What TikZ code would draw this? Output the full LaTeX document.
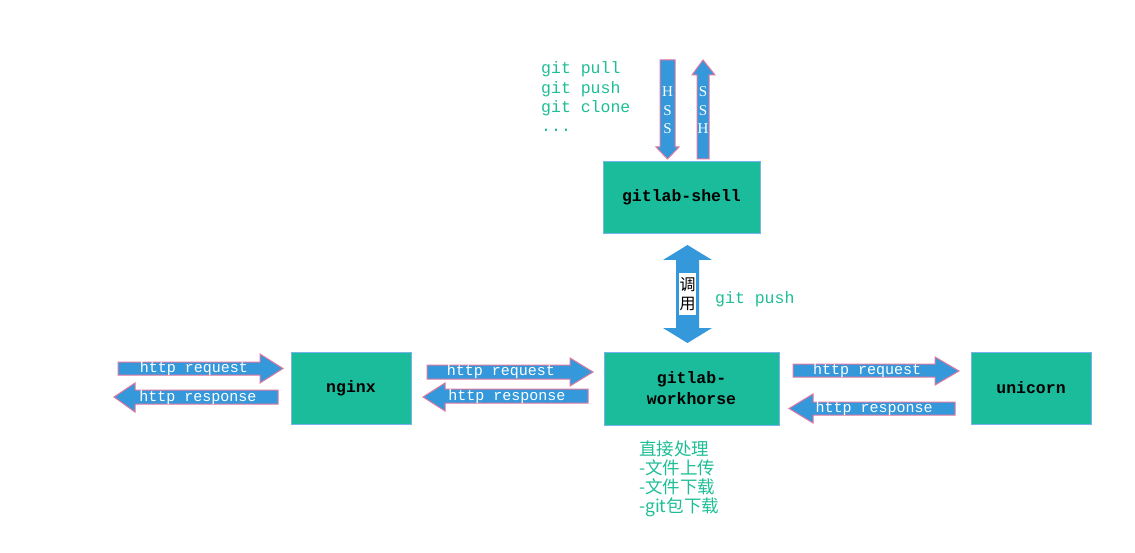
\documentclass[tikz,border=0pt]{standalone}
\usepackage{fontspec}
\setmonofont{Liberation Mono}
\newfontfamily\cjk{Noto Sans CJK SC}
\newfontfamily\vserif{Liberation Serif}
\definecolor{boxteal}{RGB}{26,188,156}
\definecolor{boxedge}{RGB}{120,180,235}
\definecolor{arrblue}{RGB}{52,152,219}
\definecolor{arrpink}{RGB}{225,120,160}
\definecolor{txtgreen}{RGB}{30,190,150}
\tikzset{
  compbox/.style={fill=boxteal, draw=boxedge, line width=0.8pt, inner sep=0pt,
    font=\fontsize{16.5}{21}\selectfont\ttfamily\bfseries, align=center},
  blk/.style={fill=arrblue, draw=arrpink, line width=1pt, line join=miter},
  blkplain/.style={fill=arrblue, draw=none},
  arrtxt/.style={text=white, inner sep=0pt, font=\fontsize{15}{18}\selectfont\ttfamily},
  vtxt/.style={text=white, inner sep=0pt, font=\fontsize{15}{17}\selectfont\vserif},
  gtxt/.style={text=txtgreen, inner sep=0pt, anchor=base west, font=\fontsize{16.5}{19}\selectfont\ttfamily},
  ctxt/.style={text=txtgreen, inner sep=0pt, anchor=base west, font=\fontsize{17.5}{19}\selectfont\cjk}
}
\begin{document}
\begin{tikzpicture}[x=1pt,y=-1pt]
\useasboundingbox[fill=white] (0,0) rectangle (1135,553);
% boxes
\node[compbox, minimum width=157pt, minimum height=72pt] (shell) at (681.5,197) {gitlab-shell};
\node[compbox, minimum width=120pt, minimum height=72pt] (nginx) at (351,388) {nginx};
\node[compbox, minimum width=175pt, minimum height=73pt] (work) at (691.5,388.5) {gitlab-\\workhorse};
\node[compbox, minimum width=120pt, minimum height=72pt] (unicorn) at (1031,388) {unicorn};
% SSH arrows
\draw[blk] (660,60) -- (675,60) -- (675,147) -- (679,147) -- (667.5,159) -- (656,147) -- (660,147) -- cycle;
\draw[blk] (697,159) -- (709,159) -- (709,75) -- (715,75) -- (703,60) -- (692,75) -- (697,75) -- cycle;
\node[vtxt] (h1) at (667.5,92) {H};
\node[vtxt] (h2) at (667.5,111) {S};
\node[vtxt] (h3) at (667.5,129) {S};
\node[vtxt] (s1) at (703,92) {S};
\node[vtxt] (s2) at (703,111) {S};
\node[vtxt] (s3) at (703,129) {H};
% call double arrow
\draw[blkplain] (687.5,245) -- (712,260) -- (699,260) -- (699,328) -- (712,328) -- (687.5,343) -- (663,328) -- (676,328) -- (676,260) -- (663,260) -- cycle;
\node[fill=white, inner sep=0pt, minimum width=17pt, minimum height=42pt, align=center,
  font=\fontsize{16}{19}\selectfont\cjk] (call) at (687.5,294) {调\\用};
\node[gtxt] (gpush) at (715,304) {git push};
% git commands
\node[gtxt] (c1) at (541,74) {git pull};
\node[gtxt] (c2) at (541,93.5) {git push};
\node[gtxt] (c3) at (541,113) {git clone};
\node[gtxt] (c4) at (541,132) {...};
% left arrows
\draw[blk] (118,362) -- (260,362) -- (260,354) -- (283,368.5) -- (260,383) -- (260,375) -- (118,375) -- cycle;
\node[arrtxt] (lreq) at (194,368.5) {http request};
\draw[blk] (278,390) -- (135,390) -- (135,383) -- (114,397) -- (135,412) -- (135,404) -- (278,404) -- cycle;
\node[arrtxt] (lres) at (198,397.5) {http response};
% middle arrows
\draw[blk] (427,365) -- (570,365) -- (570,358) -- (593,372) -- (570,386) -- (570,379) -- (427,379) -- cycle;
\node[arrtxt] (mreq) at (501,372) {http request};
\draw[blk] (588,389) -- (445,389) -- (445,383) -- (423,397) -- (445,411) -- (445,403) -- (588,403) -- cycle;
\node[arrtxt] (mres) at (507,396.5) {http response};
% right arrows
\draw[blk] (793,364) -- (935,364) -- (935,357) -- (959,371) -- (935,385) -- (935,377) -- (793,377) -- cycle;
\node[arrtxt] (rreq) at (867,371) {http request};
\draw[blk] (955,402) -- (813,402) -- (813,394) -- (789,408.5) -- (813,423) -- (813,415) -- (955,415) -- cycle;
\node[arrtxt] (rres) at (874,408.5) {http response};
% notes
\node[ctxt] (n1) at (639,455) {直接处理};
\node[ctxt] (n2) at (639,474.5) {-文件上传};
\node[ctxt] (n3) at (639,493.5) {-文件下载};
\node[ctxt] (n4) at (639,512.5) {-git包下载};
\end{tikzpicture}
\end{document}
